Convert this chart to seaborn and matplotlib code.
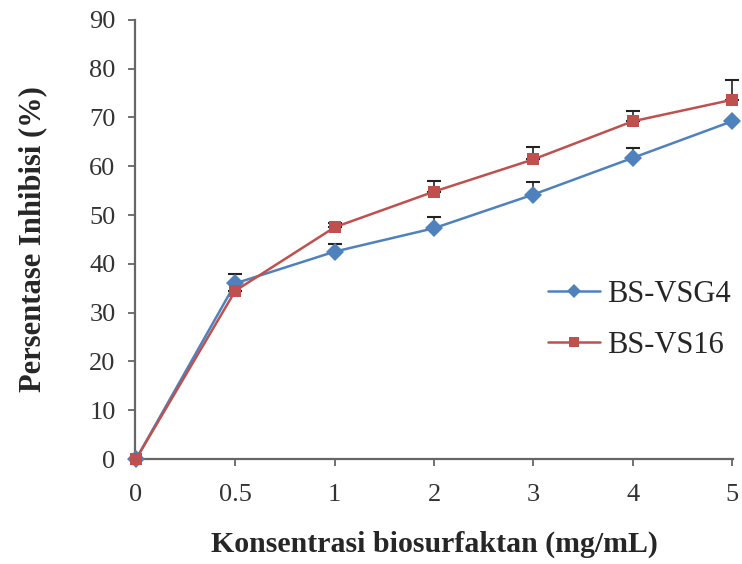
import pandas as pd
import numpy as np
import matplotlib
matplotlib.use("Agg")
import matplotlib.pyplot as plt
import seaborn as sns

# concentration categories (equally spaced on the chart)
conc = ["0", "0.5", "1", "2", "3", "4", "5"]
# percent inhibition for each biosurfactant
vsg4 = [0, 36.0, 42.5, 47.3, 54.2, 61.7, 69.2]
vs16 = [0, 34.5, 47.5, 54.8, 61.4, 69.2, 73.6]
# upper error (only the top half is drawn)
vsg4_err = [0, 2.0, 1.5, 2.2, 2.6, 2.0, 0]
vs16_err = [0, 0.0, 0.8, 2.2, 2.6, 2.2, 4.0]

sns.set_style("white")
plt.rcParams['font.family'] = ['Liberation Serif', 'DejaVu Serif']

df = pd.DataFrame({
    "conc": conc * 2,
    "val": vsg4 + vs16,
    "series": ["BS-VSG4"] * len(conc) + ["BS-VS16"] * len(conc),
})

fig = plt.figure(figsize=(7.42, 5.64), dpi=100)
ax = fig.add_axes([0.182, 0.186, 0.806, 0.779])

blue = "#4f81bd"
red = "#c0504d"

# error bars first so markers sit on top
ax.errorbar(conc, vsg4, yerr=[np.zeros(len(conc)), vsg4_err], fmt="none",
            ecolor="#222222", elinewidth=1.2, capsize=5, capthick=1.5, zorder=2)
ax.errorbar(conc, vs16, yerr=[np.zeros(len(conc)), vs16_err], fmt="none",
            ecolor="#222222", elinewidth=1.2, capsize=5, capthick=1.5, zorder=2)

sns.lineplot(data=df, x="conc", y="val", hue="series", style="series",
             palette={"BS-VSG4": blue, "BS-VS16": red},
             markers={"BS-VSG4": "D", "BS-VS16": "s"},
             dashes=False, markersize=9, linewidth=1.8,
             markeredgewidth=0, sort=False, ax=ax, zorder=3)
# let the markers at the origin spill over the axes like the original
for line in ax.lines:
    line.set_clip_on(False)

ax.set_ylim(0, 90)
ax.set_yticks(range(0, 91, 10))
ax.set_xlim(-0.01, 6.01)
for s in ["top", "right"]:
    ax.spines[s].set_visible(False)
for s in ["left", "bottom"]:
    ax.spines[s].set_color("#666666")
    ax.spines[s].set_linewidth(1.6)
ax.tick_params(axis="both", direction="out", length=5, width=1.3,
               color="#666666", labelsize=19, labelcolor="#333333",
               left=True, bottom=True)
ax.tick_params(axis="y", pad=9)
ax.tick_params(axis="x", pad=13)

ax.set_xlabel("Konsentrasi biosurfaktan (mg/mL)", fontsize=21.5,
              fontweight="bold", labelpad=18)
ax.set_ylabel("Persentase Inhibisi (%)", fontsize=22,
              fontweight="bold", labelpad=30)

ax.legend(title=None, frameon=False, fontsize=22, loc="center left",
          bbox_to_anchor=(0.645, 0.317), handlelength=1.7, handletextpad=0.22,
          labelspacing=0.7, markerscale=0.75)

fig.savefig("out.png", dpi=100)
